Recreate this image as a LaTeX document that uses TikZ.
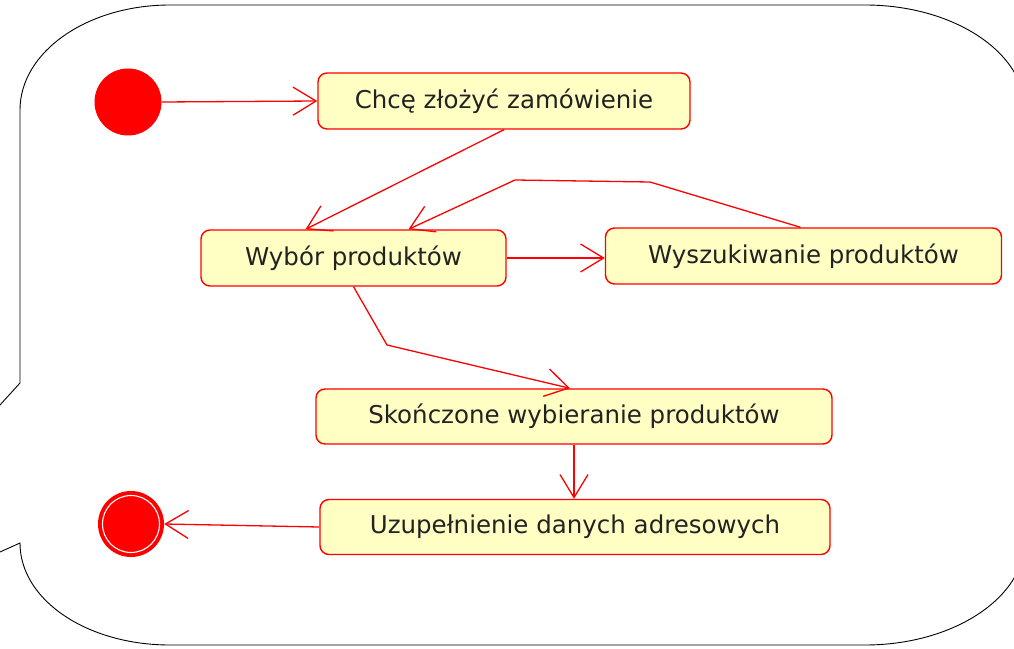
\documentclass[tikz,border=0pt]{standalone}
\usepackage{fontspec}
\setmainfont{DejaVu Sans}
\usetikzlibrary{arrows.meta,calc}
\definecolor{actfill}{HTML}{FFFFC4}
\definecolor{txt}{HTML}{222222}
\tikzset{
  act/.style={draw=red, fill=actfill, line width=1.4bp, rounded corners=9bp,
    minimum height=56bp, inner sep=0pt, text=txt,
    font=\fontsize{24.5bp}{29bp}\selectfont},
  flow/.style={draw=red, line width=1.3bp,
    -{Straight Barb[length=23bp,width=28bp,line width=1.3bp]}},
  outline/.style={draw=black, line width=0.9bp}
}
\begin{document}
\begin{tikzpicture}[x=1bp,y=-1bp]
\useasboundingbox (0,0) rectangle (1014,649);
\fill[white] (0,0) rectangle (1014,649);
\begin{scope}
\clip (0,0) rectangle (1014,649);
\draw[outline] (-10,414) -- (0,405) -- (20,383) -- (20,110)
  .. controls (20,52) and (87,5) .. (170,5) -- (865,5)
  .. controls (953,5) and (1025,52) .. (1025,110) -- (1025,540)
  .. controls (1025,598) and (953,645) .. (865,645) -- (170,645)
  .. controls (87,645) and (20,600) .. (20,543) -- (0,552) -- (-10,556);
\end{scope}

\node[circle, fill=red, minimum size=67bp, inner sep=0pt] (start) at (128,102) {};
\node[circle, fill=red, minimum size=66bp, inner sep=0pt] (end) at (131,524) {};
\draw[white, line width=1.1bp] (end.center) circle[radius=28.5bp];

\node[act, minimum width=372bp] (c1) at (504,101) {Chcę złożyć zamówienie};
\node[act, minimum width=305bp] (c2) at (353.5,258) {Wybór produktów};
\node[act, minimum width=396bp] (c3) at (803.5,256) {Wyszukiwanie produktów};
\node[act, minimum width=516bp, minimum height=55bp] (c4) at (574,416.5) {Skończone wybieranie produktów};
\node[act, minimum width=510bp, minimum height=55bp] (c5) at (575,527) {Uzupełnienie danych adresowych};

\coordinate (b1) at (650,182);
\coordinate (b2) at (515,180);
\coordinate (b3) at (387,345);

\draw[flow] (start.east) -- (c1.west);
\draw[flow] (c1.south) -- ([xshift=-48bp]c2.north);
\draw[flow] ([xshift=-3bp]c3.north) -- (b1) -- (b2) -- ([xshift=55bp]c2.north);
\draw[flow] (c2.east) -- (c3.west |- c2.east);
\draw[flow] (c2.south) -- (b3) -- ([xshift=-4bp]c4.north);
\draw[flow] (c4.south) -- (c4.south |- c5.north);
\draw[flow] (c5.west) -- (end.east);
\end{tikzpicture}
\end{document}
